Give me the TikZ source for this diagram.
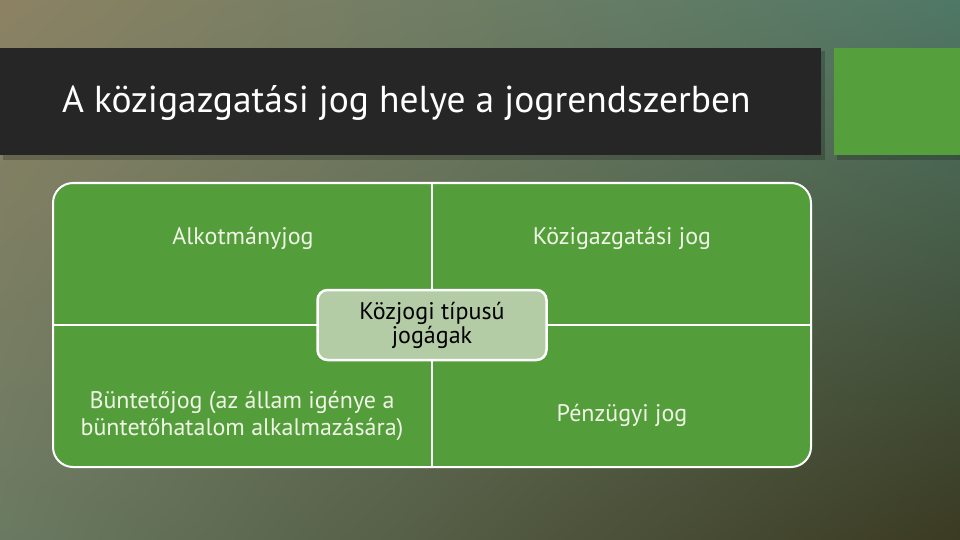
\documentclass[tikz,border=0pt]{standalone}
\usepackage{fontspec}
\setmainfont{PT Sans}
\usetikzlibrary{positioning,shadings}
\definecolor{bgTL}{HTML}{8C8263}
\definecolor{bgTR}{HTML}{4F7866}
\definecolor{bgBL}{HTML}{6A7A62}
\definecolor{bgBR}{HTML}{3B3A22}
\definecolor{barDark}{HTML}{262626}
\definecolor{accentGreen}{HTML}{55A03C}
\definecolor{quadGreen}{HTML}{539D3B}
\definecolor{centerFill}{HTML}{B4CCA6}
\definecolor{quadText}{HTML}{F0F6E6}
\tikzset{
  quadlabel/.style={text=quadText, font=\fontsize{24}{27}\selectfont, align=center},
  centerbox/.style={draw=white, line width=2.5pt, fill=centerFill, rounded corners=10pt,
     minimum width=229pt, minimum height=70pt, text=black, align=center,
     font=\fontsize{24}{24}\selectfont},
  divider/.style={draw=white, line width=2pt}
}
\begin{document}
\begin{tikzpicture}[x=1pt,y=-1pt]
\useasboundingbox (0,0) rectangle (960,540);
% background
\shade[upper left=bgTL, upper right=bgTR, lower left=bgBL, lower right=bgBR] (0,0) rectangle (960,540);
% shadows
\fill[black, opacity=0.2] (3,51) rectangle (825,160);
\fill[black, opacity=0.2] (837,51) rectangle (960,160);
% title bar
\fill[barDark] (0,48) rectangle (821,155);
\fill[accentGreen] (834,48) rectangle (960,155);
\node[anchor=base west, text=white, font=\fontsize{37.5}{42}\selectfont, inner sep=0pt] (title) at (62,113) {A közigazgatási jog helye a jogrendszerben};
% quadrant block
\path[fill=quadGreen, draw=white, line width=2pt, rounded corners=20pt] (53,183) rectangle (811,467);
\coordinate (vtop) at (432,183);
\coordinate (vbot) at (432,467);
\coordinate (hleft) at (53,325);
\coordinate (hright) at (811,325);
\draw[divider] (vtop) -- (vbot);
\draw[divider] (hleft) -- (hright);
% quadrant labels
\node[quadlabel] (alk) at (243,238) {Alkotmányjog};
\node[quadlabel] (kozig) at (622,238) {Közigazgatási jog};
\node[quadlabel] (bunt) at (242,416) {Büntetőjog (az állam igénye a\\büntetőhatalom alkalmazására)};
\node[quadlabel] (penz) at (622,415) {Pénzügyi jog};
% center box
\node[centerbox] (center) at (432,325) {\raisebox{-2pt}{\parbox{200pt}{\centering Közjogi típusú\\jogágak}}};
\end{tikzpicture}
\end{document}
